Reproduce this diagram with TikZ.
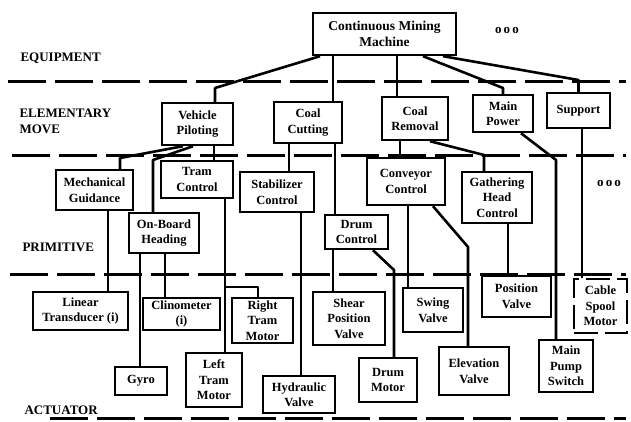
\documentclass[tikz,border=0pt]{standalone}
\usepackage{fontspec}
\setmainfont{Liberation Serif}
\usepackage{tikz}

\begin{document}
\begin{tikzpicture}[x=1pt, y=-1pt,
        unit/.style={draw, line width=2.4pt, inner sep=0pt, align=center, font=\fontsize{12.5}{15.5}\selectfont\bfseries},
        level/.style={anchor=west, align=left, font=\fontsize{13}{16}\selectfont\bfseries},
        more/.style={font=\fontsize{13}{16}\selectfont\bfseries},
        link/.style={line width=2.6pt, line join=round},
        divider/.style={line width=3pt, dash pattern=on 38pt off 9pt}
    ]
        \useasboundingbox (0,0) rectangle (631,421);

        \foreach \y/\xa in {81/8, 155/12, 274/10, 418/50}
            \draw[divider] (\xa,\y) -- (626,\y);

        \node[level] (equip) at (17,58) {EQUIPMENT};
        \node[level] (elem) at (16,121) {ELEMENTARY\\MOVE};
        \node[level] (prim) at (19,247) {PRIMITIVE};
        \node[level] (act) at (21,410) {ACTUATOR};

        \node[unit, minimum width=143pt, minimum height=42pt, font=\fontsize{13.5}{15.5}\selectfont\bfseries] (cmm) at (384.5,34) {Continuous Mining\\Machine};
        \node[more] (moreequip) at (507,30) {o\,o\,o};
        \node[more] (moreprim) at (609,183) {o\,o\,o};

        \node[unit, minimum width=71pt, minimum height=42pt] (vehicle) at (197.5,124) {Vehicle\\Piloting};
        \node[unit, minimum width=68pt, minimum height=41pt] (cutting) at (308,122.5) {Coal\\Cutting};
        \node[unit, minimum width=66pt, minimum height=43pt] (removal) at (415,118.5) {Coal\\Removal};
        \node[unit, minimum width=60pt, minimum height=37pt] (power) at (503,113.5) {Main\\Power};
        \node[unit, minimum width=63pt, minimum height=35pt] (support) at (578.5,110.5) {Support};

        \node[unit, minimum width=77pt, minimum height=40pt] (mech) at (94.5,190) {Mechanical\\Guidance};
        \node[unit, minimum width=72pt, minimum height=37pt] (tram) at (197,179.5) {Tram\\Control};
        \node[unit, minimum width=70pt, minimum height=40pt] (onboard) at (164,233) {On-Board\\Heading};
        \node[unit, minimum width=74pt, minimum height=40pt] (stab) at (277,192) {Stabilizer\\Control};
        \node[unit, minimum width=63pt, minimum height=34pt] (drum) at (356.5,232) {Drum\\Control};
        \node[unit, minimum width=78pt, minimum height=47pt] (conveyor) at (406,181.5) {Conveyor\\Control};
        \node[unit, minimum width=70pt, minimum height=51pt] (gather) at (497,197.5) {Gathering\\Head\\Control};

        \node[unit, minimum width=95pt, minimum height=38pt] (lineartd) at (80.5,311) {Linear\\Transducer (i)};
        \node[unit, minimum width=52pt, minimum height=28pt] (gyro) at (141,381) {Gyro};
        \node[unit, minimum width=77pt, minimum height=32pt] (clino) at (181.5,314) {Clinometer\\(i)};
        \node[unit, minimum width=61pt, minimum height=45pt] (rtram) at (262.5,320.5) {Right\\Tram\\Motor};
        \node[unit, minimum width=56pt, minimum height=54pt] (ltram) at (214,380) {Left\\Tram\\Motor};
        \node[unit, minimum width=72pt, minimum height=37pt] (hydr) at (299,394.5) {Hydraulic\\Valve};
        \node[unit, minimum width=72pt, minimum height=53pt] (shear) at (349,318.5) {Shear\\Position\\Valve};
        \node[unit, minimum width=58pt, minimum height=44pt] (drummotor) at (388,380) {Drum\\Motor};
        \node[unit, minimum width=60pt, minimum height=44pt] (swing) at (433,310) {Swing\\Valve};
        \node[unit, minimum width=70pt, minimum height=48pt] (elev) at (474,371) {Elevation\\Valve};
        \node[unit, minimum width=69pt, minimum height=41pt] (posvalve) at (516.5,296.5) {Position\\Valve};
        \node[unit, minimum width=54pt, minimum height=52pt] (pump) at (566,366) {Main\\Pump\\Switch};
        \node[unit, minimum width=53pt, minimum height=54pt, dash pattern=on 24pt off 7pt] (cable) at (600.5,306) {Cable\\Spool\\Motor};

        \draw[link] (320,0 |- cmm.south) -- (215,88) -- (215,0 |- vehicle.north);
        \draw[link] (333,0 |- cmm.south) -- (333,0 |- cutting.north);
        \draw[link] (397,0 |- cmm.south) -- (397,0 |- removal.north);
        \draw[link] (423,0 |- cmm.south) -- (503,88) -- (power.north);
        \draw[link] (443,0 |- cmm.south) -- (578.5,80) -- (support.north);

        \draw[link] (183,0 |- vehicle.south) -- (120,158) -- (120,0 |- mech.north);
        \draw[link] (193,0 |- vehicle.south) -- (153,160) -- (153,0 |- onboard.north);
        \draw[link] (214,0 |- vehicle.south) -- (214,0 |- tram.north);
        \draw[link] (289,0 |- cutting.south) -- (289,0 |- stab.north);
        \draw[link] (335,0 |- cutting.south) -- (335,0 |- drum.north);
        \draw[link] (400,0 |- removal.south) -- (400,0 |- conveyor.north);
        \draw[link] (430,0 |- removal.south) -- (484,155) -- (484,0 |- gather.north);
        \draw[link] (521,0 |- power.south) -- (556,160) -- (556,0 |- pump.north);
        \draw[link] (582,0 |- support.south) -- (582,0 |- cable.north);

        \draw[link] (108,0 |- mech.south) -- (108,0 |- lineartd.north);
        \draw[link] (140,0 |- onboard.south) -- (140,0 |- gyro.north);
        \draw[link] (165,0 |- onboard.south) -- (165,0 |- clino.north);
        \draw[link] (225,0 |- tram.south) -- (225,0 |- ltram.north);
        \draw[link] (225,0 |- tram.south) |- (258,287) -- (258,0 |- rtram.north);
        \draw[link] (301,0 |- stab.south) -- (301,0 |- hydr.north);
        \draw[link] (333,0 |- drum.south) -- (333,0 |- shear.north);
        \draw[link] (373,0 |- drum.south) -- (394,270) -- (394,0 |- drummotor.north);
        \draw[link] (408,0 |- conveyor.south) -- (408,0 |- swing.north);
        \draw[link] (433,0 |- conveyor.south) -- (468,247) -- (468,0 |- elev.north);
        \draw[link] (508,0 |- gather.south) -- (508,0 |- posvalve.north);
    \end{tikzpicture}
\end{document}
